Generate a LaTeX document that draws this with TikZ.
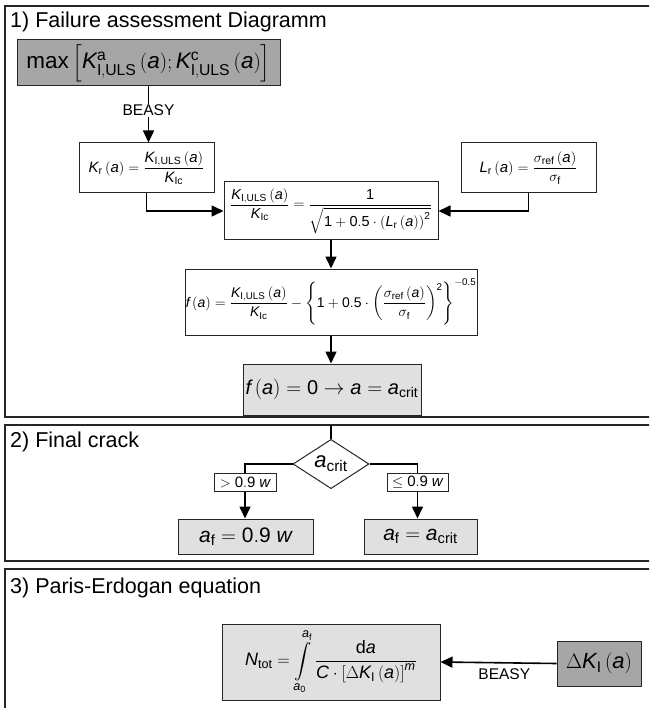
\documentclass[tikz,border=0pt]{standalone}
\usepackage{amsmath}
\usepackage{fontspec}
\setmainfont{Liberation Sans}
\usetikzlibrary{arrows.meta,shapes.geometric}
\newcommand\mi[1]{\mathit{#1}}
\newcommand\mr[1]{\mathrm{#1}}
\definecolor{darkfill}{RGB}{166,166,166}
\definecolor{lightfill}{RGB}{224,224,224}
\begin{document}
\begin{tikzpicture}[x=1pt,y=-1pt,
  panel/.style={draw=black!85,line width=1.4pt},
  box/.style={draw=black!85,line width=1pt,inner sep=0pt,align=center},
  darkbox/.style={box,fill=darkfill},
  lightbox/.style={box,fill=lightfill},
  conn/.style={line width=1.6pt},
  arr/.style={conn,-{Triangle[length=12pt,width=11pt]}},
  ttl/.style={anchor=base west,inner sep=0pt,font=\fontsize{21.5}{24}\selectfont},
  lbl/.style={font=\fontsize{15.5}{17}\selectfont,inner sep=1pt},
  fs/.style={font=\fontsize{#1}{#1}\selectfont}]
\useasboundingbox (0,0) rectangle (649,708);
\clip (0,0) rectangle (649,708);
% panels
\draw[panel] (5,6) rectangle (670,417);
\draw[panel] (5,425) rectangle (670,561);
\draw[panel] (5,569) rectangle (670,720);
\node[ttl] (t1) at (10,28) {1) Failure assessment Diagramm};
\node[ttl] (t2) at (10,447) {2) Final crack};
\node[ttl] (t3) at (10,593) {3) Paris-Erdogan equation};
% panel 1
\node[darkbox,minimum width=263pt,minimum height=46pt,fs=22.5] (maxn) at (148.5,63)
  {$\mr{max}\left[\mi{K}^{\mr{a}}_{\mr{I,ULS}}\,(\mi{a});\mi{K}^{\mr{c}}_{\mr{I,ULS}}\,(\mi{a})\right]$};
\node[box,minimum width=135pt,minimum height=50pt,fs=15] (kr) at (146.5,168)
  {$\mi{K}_{\mr{r}}\,(\mi{a})=\dfrac{\mi{K}_{\mr{I,ULS}}\,(\mi{a})}{\mi{K}_{\mr{Ic}}}$};
\node[box,minimum width=135pt,minimum height=50pt,fs=15] (lr) at (528.5,168)
  {$\mi{L}_{\mr{r}}\,(\mi{a})=\dfrac{\sigma_{\mr{ref}}\,(\mi{a})}{\sigma_{\mr{f}}}$};
\node[box,minimum width=214pt,minimum height=58pt,fs=14.5] (fad) at (331,211)
  {$\dfrac{\mi{K}_{\mr{I,ULS}}\,(\mi{a})}{\mi{K}_{\mr{Ic}}}=\dfrac{\mr{1}}{\sqrt{\mr{1}+\mr{0.5}\cdot\left(\mi{L}_{\mr{r}}\,(\mi{a})\right)^{\mr{2}}}}$};
\node[box,minimum width=292pt,minimum height=66pt,fs=14] (fbox) at (331,302)
  {$\mi{f}\,(\mi{a})=\dfrac{\mi{K}_{\mr{I,ULS}}\,(\mi{a})}{\mi{K}_{\mr{Ic}}}-\left\{\mr{1}+\mr{0.5}\cdot\left(\dfrac{\sigma_{\mr{ref}}\,(\mi{a})}{\sigma_{\mr{f}}}\right)^{\mr{2}}\right\}^{-\mr{0.5}}$};
\node[lightbox,minimum width=178pt,minimum height=51pt,fs=20] (res) at (332,389.5)
  {$\mi{f}\,(\mi{a})=\mr{0}\rightarrow\mi{a}=\mi{a}_{\mr{crit}}$};
\draw[arr] (maxn.south) -- node[lbl,fill=white,pos=0.42] (bea1) {BEASY} (maxn.south |- kr.north);
\draw[arr] (kr.south) |- (fad.west);
\draw[arr] (lr.south) |- (fad.east);
\draw[arr] (fad.south) -- (fbox.north);
\draw[arr] (fbox.south) -- (fbox.south |- res.north);
% panel 2
\coordinate (p2top) at (331,425);
\node[diamond,draw=black!85,line width=1pt,minimum width=76pt,minimum height=47pt,inner sep=0pt,fs=22] (dia) at (331,464)
  {$\mi{a}_{\mr{crit}}$};
\node[box,minimum width=62pt,minimum height=18pt,fs=15] (l1) at (245,482) {$>\mr{0.9}\;\mi{w}$};
\node[box,minimum width=61pt,minimum height=18pt,fs=15] (l2) at (417.5,482) {$\leq\mr{0.9}\;\mi{w}$};
\node[lightbox,minimum width=135pt,minimum height=35pt,fs=21] (af1) at (245.5,536.5)
  {$\mi{a}_{\mr{f}}=\mr{0.9}\;\mi{w}$};
\node[lightbox,minimum width=113pt,minimum height=35pt,fs=21] (af2) at (420.5,536.5)
  {$\mi{a}_{\mr{f}}=\mi{a}_{\mr{crit}}$};
\draw[conn] (p2top) -- (dia.north);
\draw[conn] (dia.west) -| (l1.north);
\draw[conn] (dia.east) -| (l2.north);
\draw[arr] (l1.south) -- (l1.south |- af1.north);
\draw[arr] (l2.south) -- (l2.south |- af2.north);
% panel 3
\node[lightbox,minimum width=218pt,minimum height=76pt,fs=18] (ntot) at (331,662)
  {$\mi{N}_{\mr{tot}}=\displaystyle\int\limits_{\mi{a}_{\mr{0}}}^{\mi{a}_{\mr{f}}}\frac{\mr{d}\mi{a}}{\mi{C}\cdot\left[\Delta\mi{K}_{\mr{I}}\,(\mi{a})\right]^{\mi{m}}}$};
\node[darkbox,minimum width=84pt,minimum height=45pt,fs=22] (dk) at (599,663.5)
  {$\Delta\mi{K}_{\mr{I}}\,(\mi{a})$};
\draw[arr] (dk.west) -- node[lbl,below=4pt,pos=0.45] (bea2) {BEASY} (ntot.east);
\end{tikzpicture}
\end{document}
